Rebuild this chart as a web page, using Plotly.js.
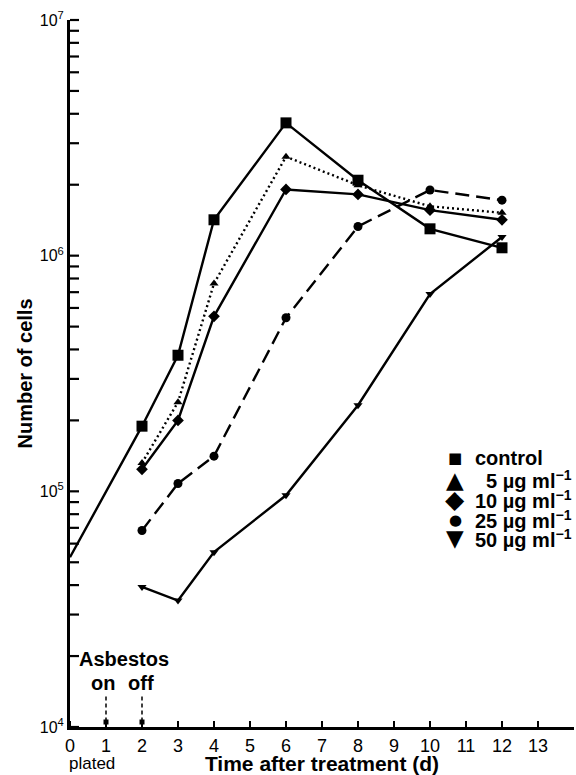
<!DOCTYPE html>
<html>
<head>
<meta charset="utf-8">
<script src="https://cdn.plot.ly/plotly-3.0.1.min.js"></script>
<style>html,body{margin:0;padding:0;background:#fff;}#chart{width:576px;height:775px;}</style>
</head>
<body>
<div id="chart"></div>
<script>
// Days after treatment
const daysControl = [0, 2, 3, 4, 6, 8, 10, 12];
const daysTreated = [2, 3, 4, 6, 8, 10, 12];

// Number of cells
const control = [52500, 189000, 378000, 1420000, 3660000, 2090000, 1300000, 1080000];
const dose5   = [132000, 239000, 762000, 2630000, 1990000, 1620000, 1520000];
const dose10  = [124000, 200000, 553000, 1910000, 1820000, 1560000, 1420000];
const dose25  = [68200, 108000, 141000, 545000, 1330000, 1900000, 1720000];
const dose50  = [39300, 34400, 55200, 96200, 232000, 687000, 1200000];

const seriesNames = ["control", "\u20075 \u00b5g ml<sup>\u22121</sup>", "10 \u00b5g ml<sup>\u22121</sup>", "25 \u00b5g ml<sup>\u22121</sup>", "50 \u00b5g ml<sup>\u22121</sup>"];
const seriesGlyphs = ["\u25A0", "\u25B2", "\u25C6", "\u25CF", "\u25BC"];

const xTickVals = [0,1,2,3,4,5,6,7,8,9,10,11,12,13];
const xTickText = xTickVals.map(String);
const yMajorVals = [1e4, 1e5, 1e6, 1e7];
const yMajorText = ["10<sup>4</sup>", "10<sup>5</sup>", "10<sup>6</sup>", "10<sup>7</sup>"];
const yAllTicks = [];
[1e4, 1e5, 1e6].forEach(d => { for (let k = 1; k <= 9; k++) yAllTicks.push(k * d); });
yAllTicks.push(1e7);

const asbestosDays = [1, 2];
const asbestosLevel = [10500, 10500];

const FONT = "Liberation Sans, Arial, Helvetica, sans-serif";
const LW = 2.4;
const W = 576, H = 775, ML = 70, MR = 2, MT = 20, MB = 48;
const PW = W - ML - MR, PH = H - MT - MB;
const X_RANGE = [0, 14];
const Y_RANGE = [4, 7];

function dataTrace(x, y, sym, size, dash, sizes) {
  return {
    x: x, y: y, type: "scatter", mode: "lines+markers", showlegend: false,
    line: {color: "#000", width: LW, dash: dash},
    marker: {symbol: sym, size: sizes || size, color: "#000", opacity: 1, line: {width: 0}},
    cliponaxis: false, hoverinfo: "skip"
  };
}

const controlSizes = control.map((v, i) => i === 0 ? 0 : 11);

const traces = [
  dataTrace(daysControl, control, "square", 11, "solid", controlSizes),
  dataTrace(daysTreated, dose5, "triangle-up", 8, "2px,3px"),
  dataTrace(daysTreated, dose10, "diamond", 9, "solid"),
  dataTrace(daysTreated, dose25, "circle", 9, "14px,7px"),
  dataTrace(daysTreated, dose50, "triangle-down", 8, "solid"),
  {x: asbestosDays, y: asbestosLevel, type: "scatter", mode: "markers", showlegend: false,
   marker: {symbol: "square", size: 5, color: "#000"}, cliponaxis: false, hoverinfo: "skip"}
];

// legend rows (paper coordinates)
const legendRowsY = [0.3805, 0.3494, 0.3211, 0.2928, 0.2673];
const glyphSizes = [15, 23, 25, 15, 23];
const legendAnn = [];
seriesNames.forEach((n, i) => {
  legendAnn.push({text: seriesGlyphs[i], xref: "paper", yref: "paper", x: 0.7639, y: legendRowsY[i],
    showarrow: false, xanchor: "center", yanchor: "middle", font: {family: "DejaVu Sans", size: glyphSizes[i], color: "#000"}});
  legendAnn.push({text: "<b>" + n + "</b>", xref: "paper", yref: "paper", x: 0.7996, y: legendRowsY[i],
    showarrow: false, xanchor: "left", yanchor: "middle", font: {family: FONT, size: 20, color: "#000"}});
});

// tick marks drawn inside the axes (filled thin rectangles)
const tickShapes = [];
const xTickHalfW = 1 / PW * (X_RANGE[1] - X_RANGE[0]);
xTickVals.forEach(v => tickShapes.push({type: "rect", xref: "x", yref: "paper",
  x0: v - xTickHalfW, x1: v + xTickHalfW, y0: 0, y1: 6 / PH,
  fillcolor: "#000", line: {width: 0}, layer: "above"}));
const yTickLenX = 9 / PW * (X_RANGE[1] - X_RANGE[0]);
const yTickHalfH = 1.1 / PH;
yAllTicks.forEach(v => {
  const p = (Math.log10(v) - Y_RANGE[0]) / (Y_RANGE[1] - Y_RANGE[0]);
  tickShapes.push({type: "rect", xref: "x", yref: "paper",
    x0: X_RANGE[0], x1: X_RANGE[0] + yTickLenX, y0: p - yTickHalfH, y1: p + yTickHalfH,
    fillcolor: "#000", line: {width: 0}, layer: "above"});
});

const layout = {
  width: W, height: H,
  margin: {l: ML, r: MR, t: MT, b: MB},
  paper_bgcolor: "#fff", plot_bgcolor: "#fff",
  font: {family: FONT, color: "#000", size: 18},
  showlegend: false,
  xaxis: {
    range: X_RANGE, tickmode: "array", tickvals: xTickVals, ticktext: xTickText,
    ticks: "", showline: true, linewidth: 3, linecolor: "#000", showgrid: false, zeroline: false,
    tickfont: {size: 18, family: FONT},
    title: {text: "Time after treatment (d)", font: {size: 21, weight: "bold", family: FONT}, standoff: 2}
  },
  yaxis: {
    type: "log", range: Y_RANGE, tickmode: "array", tickvals: yMajorVals, ticktext: yMajorText,
    ticks: "", showline: true, linewidth: 3, linecolor: "#000", showgrid: false, zeroline: false,
    tickfont: {size: 16, family: FONT},
    title: {text: "Number of cells", font: {size: 20, weight: "bold", family: FONT}, standoff: 2}
  },
  shapes: asbestosDays.map(d => ({type: "line", xref: "x", yref: "paper", x0: d, x1: d, y0: 0.043, y1: 0.006,
    line: {color: "#000", width: 1.5, dash: "4px,3px"}})).concat(tickShapes),
  annotations: [
    {text: "<b>Asbestos</b>", xref: "x", yref: "paper", x: 1.5, y: 0.0962, showarrow: false,
     font: {size: 20, family: FONT}, xanchor: "center", yanchor: "middle"},
    {text: "<b>on</b>", xref: "x", yref: "paper", x: 0.92, y: 0.0622, showarrow: false,
     font: {size: 20, family: FONT}, xanchor: "center", yanchor: "middle"},
    {text: "<b>off</b>", xref: "x", yref: "paper", x: 1.97, y: 0.0622, showarrow: false,
     font: {size: 20, family: FONT}, xanchor: "center", yanchor: "middle"},
    {text: "plated", xref: "paper", yref: "paper", x: -0.006, y: -0.051, showarrow: false,
     font: {size: 17, family: FONT}, xanchor: "left", yanchor: "middle"}
  ].concat(legendAnn)
};

Plotly.newPlot("chart", traces, layout, {displayModeBar: false});
</script>
</body>
</html>
